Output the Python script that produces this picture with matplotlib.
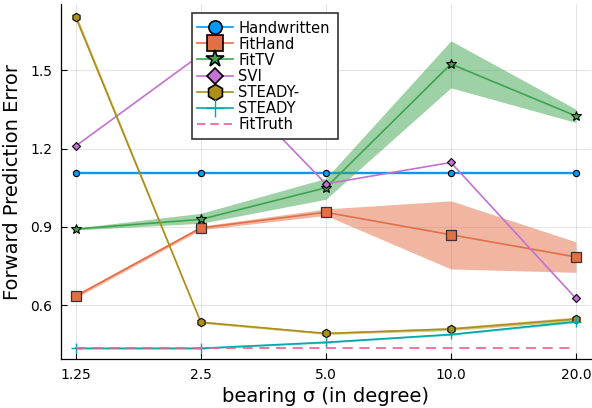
import matplotlib
matplotlib.use("Agg")
import matplotlib.pyplot as plt
from matplotlib.lines import Line2D
from matplotlib.patches import Rectangle

plt.rcParams['font.family'] = ['DejaVu Sans']

# data
sigma = [1.25, 2.5, 5.0, 10.0, 20.0]
sigma_labels = ["1.25", "2.5", "5.0", "10.0", "20.0"]

handwritten = [1.107, 1.107, 1.107, 1.107, 1.107]

fithand = [0.635, 0.896, 0.956, 0.870, 0.785]
fithand_lo = [0.628, 0.889, 0.944, 0.739, 0.726]
fithand_hi = [0.642, 0.903, 0.969, 1.000, 0.843]

fittv = [0.892, 0.929, 1.050, 1.524, 1.325]
fittv_lo = [0.888, 0.914, 1.006, 1.433, 1.300]
fittv_hi = [0.896, 0.952, 1.086, 1.613, 1.351]

svi = [1.210, 1.560, 1.065, 1.147, 0.626]

steady_minus = [1.705, 0.535, 0.492, 0.509, 0.547]
steady_minus_lo = [1.692, 0.531, 0.488, 0.503, 0.539]
steady_minus_hi = [1.718, 0.539, 0.496, 0.515, 0.555]

steady = [0.435, 0.435, 0.458, 0.488, 0.537]
steady_lo = [0.432, 0.432, 0.455, 0.485, 0.533]
steady_hi = [0.438, 0.438, 0.461, 0.491, 0.541]

fittruth = [0.436, 0.436, 0.436, 0.436, 0.436]

labels = ["Handwritten", "FitHand", "FitTV", "SVI", "STEADY-", "STEADY", "FitTruth"]

c_blue = "#009AFA"
c_orange = "#E36F47"
c_green = "#3EA44E"
c_purple = "#C371D2"
c_olive = "#AC8E18"
c_teal = "#00A9AD"
c_pink = "#ED5E93"

fig = plt.figure(figsize=(5.92, 4.08), dpi=100)
ax = fig.add_axes([0.1025, 0.1194, 0.8958, 0.8708])

ax.plot(sigma, handwritten, color=c_blue, lw=1.7, marker="o", ms=4.5,
        mfc=c_blue, mec="black", mew=0.8, zorder=3)

ax.fill_between(sigma, fithand_lo, fithand_hi, color=c_orange, alpha=0.5, lw=0, zorder=4)
ax.plot(sigma, fithand, color=c_orange, lw=1.2, marker="s", ms=6.5,
        mfc=c_orange, mec="#333333", mew=0.9, zorder=4)

ax.fill_between(sigma, fittv_lo, fittv_hi, color=c_green, alpha=0.5, lw=0, zorder=5)
ax.plot(sigma, fittv, color=c_green, lw=1.2, marker="*", ms=7,
        mfc=c_green, mec="black", mew=0.8, zorder=5)

ax.plot(sigma, svi, color=c_purple, lw=1.2, marker="D", ms=4.5,
        mfc=c_purple, mec="black", mew=0.8, zorder=6)

ax.fill_between(sigma, steady_minus_lo, steady_minus_hi, color=c_olive, alpha=0.5, lw=0, zorder=7)
ax.plot(sigma, steady_minus, color=c_olive, lw=1.2, marker="h", ms=6,
        mfc=c_olive, mec="black", mew=0.8, zorder=7)

ax.fill_between(sigma, steady_lo, steady_hi, color=c_teal, alpha=0.5, lw=0, zorder=8)
ax.plot(sigma, steady, color=c_teal, lw=1.2, marker="+", ms=7,
        mec=c_teal, mew=1.0, zorder=8)

ax.plot(sigma, fittruth, color=c_pink, lw=1.2, ls=(0, (6, 4)), zorder=9)

ax.set_xscale("log", base=2)
ax.set_xlim(1.150, 21.74)
ax.set_ylim(0.393, 1.754)
ax.set_xticks(sigma)
ax.set_xticklabels(sigma_labels)
ax.xaxis.set_minor_locator(matplotlib.ticker.NullLocator())
ax.set_yticks([0.6, 0.9, 1.2, 1.5])
ax.set_yticklabels(["0.6", "0.9", "1.2", "1.5"])

ax.tick_params(direction="in", length=4, width=0.8, labelsize=10, pad=6)
ax.grid(True, color="black", alpha=0.1, lw=0.8)
ax.set_axisbelow(True)
for s in ["top", "right"]:
    ax.spines[s].set_visible(False)
for s in ["left", "bottom"]:
    ax.spines[s].set_linewidth(0.9)

ax.set_xlabel("bearing σ (in degree)", fontsize=14, labelpad=4)
ax.set_ylabel("Forward Prediction Error", fontsize=14, labelpad=6)

# legend: frame drawn separately so it can be a bit wider than the text
frame = Rectangle((0.2476, 0.620), 0.2753, 0.3555, transform=ax.transAxes,
                  facecolor="white", edgecolor="#333333", lw=1.2, zorder=19)
ax.add_patch(frame)

handles = [
    Line2D([], [], color=c_blue, lw=1.2, marker="o", ms=9.5, mfc=c_blue, mec="black", mew=1.2),
    Line2D([], [], color=c_orange, lw=1.2, marker="s", ms=11.5, mfc=c_orange, mec="black", mew=1.2),
    Line2D([], [], color=c_green, lw=1.2, marker="*", ms=13, mfc=c_green, mec="black", mew=1.2),
    Line2D([], [], color=c_purple, lw=1.2, marker="D", ms=8.5, mfc=c_purple, mec="black", mew=1.2),
    Line2D([], [], color=c_olive, lw=1.2, marker="h", ms=11.5, mfc=c_olive, mec="black", mew=1.2),
    Line2D([], [], color=c_teal, lw=1.2, marker="+", ms=13, mec=c_teal, mew=1.0),
    Line2D([], [], color=c_pink, lw=1.2, ls=(0, (5, 3))),
]
leg = ax.legend(handles, labels, loc="upper left", bbox_to_anchor=(0.257, 0.9533),
                fontsize=10.6, labelspacing=0.07, handlelength=2.45, handletextpad=0.35,
                borderpad=0, borderaxespad=0, frameon=False)
leg.set_zorder(20)

fig.savefig("out.png", dpi=100)
